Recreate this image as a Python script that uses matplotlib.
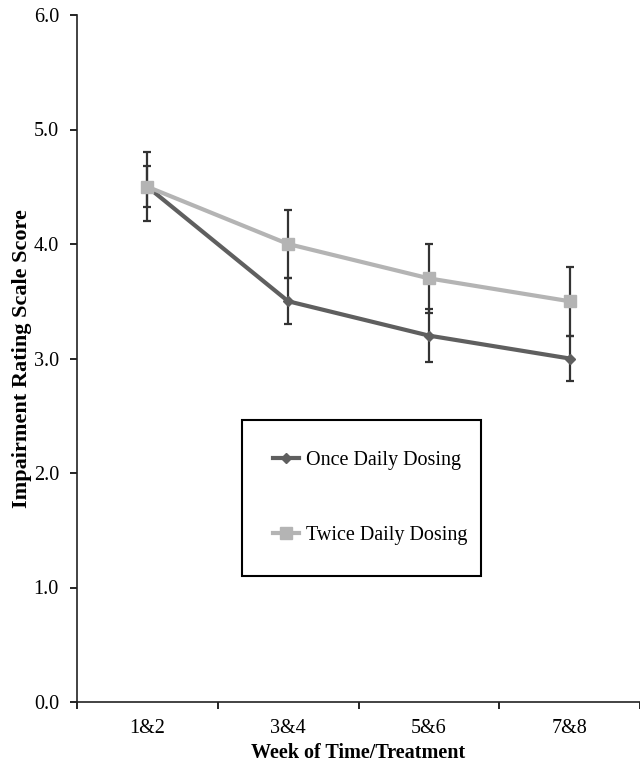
import numpy as np
import matplotlib
matplotlib.use("Agg")
import matplotlib.pyplot as plt

plt.rcParams['font.family'] = ['Liberation Serif', 'DejaVu Serif']

weeks = ["1&2", "3&4", "5&6", "7&8"]
once_mean = [4.5, 3.5, 3.2, 3.0]
once_err = [0.18, 0.2, 0.23, 0.2]
twice_mean = [4.5, 4.0, 3.7, 3.5]
twice_err = [0.3, 0.3, 0.3, 0.3]

fig = plt.figure(figsize=(6.4, 7.66), dpi=100)
ax = fig.add_axes([77 / 640, 1 - 702 / 766, 1 - 77 / 640, (702 - 15) / 766])

x = np.arange(len(weeks))

# error bars first, lines on top
ax.errorbar(x, twice_mean, yerr=twice_err, fmt='none', ecolor='#333333',
            elinewidth=1.6, capsize=3, capthick=1.6, zorder=2)
ax.errorbar(x, once_mean, yerr=once_err, fmt='none', ecolor='#333333',
            elinewidth=1.6, capsize=3, capthick=1.6, zorder=2)

ax.plot(x, once_mean, color='#5f5f5f', lw=3, marker='D', ms=5.5,
        label='Once Daily Dosing', zorder=3)
ax.plot(x, twice_mean, color='#b4b4b4', lw=3, marker='s', ms=8,
        label='Twice Daily Dosing', zorder=3)

ax.set_xlim(-0.5, 3.5)
ax.set_ylim(0, 6)
ax.set_yticks(np.arange(0, 6.1, 1.0))
ax.set_yticklabels([f"{v:.1f}" for v in np.arange(0, 6.1, 1.0)], fontsize=14.5)
ax.set_xticks(np.arange(-0.5, 3.6, 1.0))
ax.set_xticklabels([])
ax.set_xticks(x, minor=True)
ax.set_xticklabels(weeks, minor=True, fontsize=14.5)
ax.tick_params(axis='x', which='minor', length=0, pad=12)
ax.tick_params(axis='x', which='major', length=5, width=1.2, direction='out')
ax.tick_params(axis='y', length=5, width=1.2, direction='out', pad=8)

for side in ['top', 'right']:
    ax.spines[side].set_visible(False)
for side in ['left', 'bottom']:
    ax.spines[side].set_linewidth(1.2)
    ax.spines[side].set_color('#222222')

ax.set_xlabel("Week of Time/Treatment", fontsize=14.5, fontweight='bold', labelpad=4)
ax.set_ylabel("Impairment Rating Scale Score", fontsize=16, fontweight='bold', labelpad=1)

leg = ax.legend(loc='upper left',
                bbox_to_anchor=(242 / 640, 1 - 420 / 766 - 0.01, 239 / 640, 0.01),
                bbox_transform=fig.transFigure, mode='expand', fontsize=14.5,
                fancybox=False, edgecolor='black', framealpha=1,
                handlelength=1.3, handletextpad=0.35, labelspacing=2.75,
                borderpad=1.55, borderaxespad=0)
leg.get_frame().set_linewidth(1.5)

fig.savefig("out.png", dpi=100)
